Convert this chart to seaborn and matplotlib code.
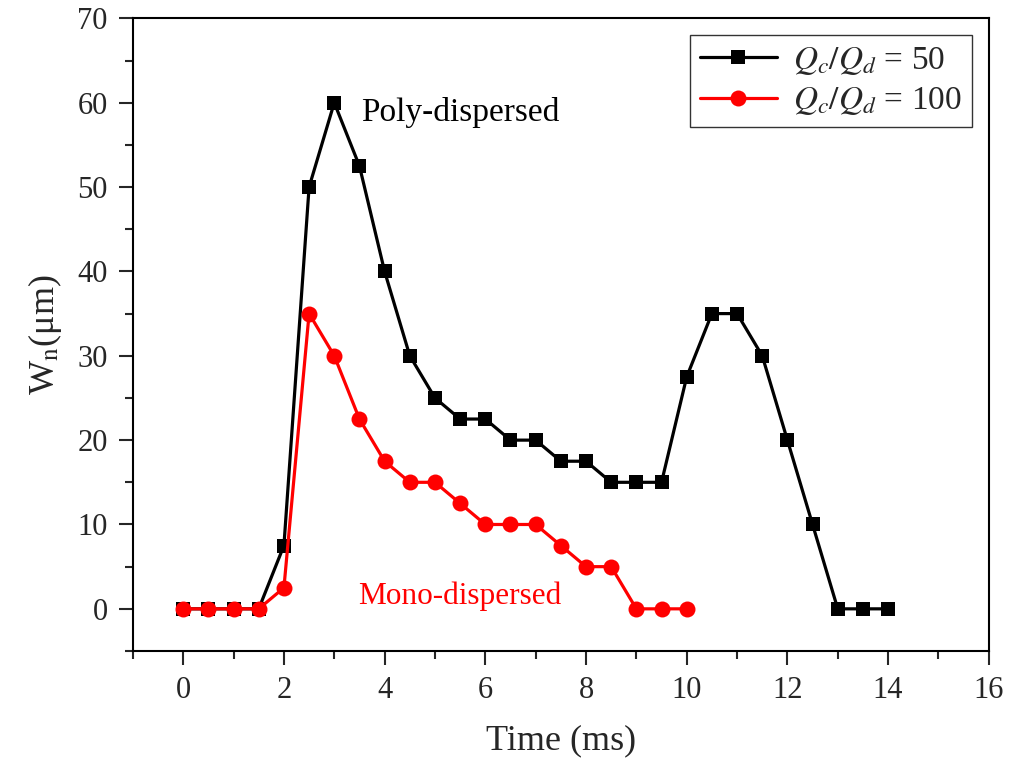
import pandas as pd
import matplotlib
matplotlib.use("Agg")
import matplotlib.pyplot as plt
from matplotlib.ticker import MultipleLocator
import seaborn as sns

# data
time_50 = [0, 0.5, 1, 1.5, 2, 2.5, 3, 3.5, 4, 4.5, 5, 5.5, 6, 6.5, 7, 7.5,
           8, 8.5, 9, 9.5, 10, 10.5, 11, 11.5, 12, 12.5, 13, 13.5, 14]
wn_50 = [0, 0, 0, 0, 7.5, 50, 60, 52.5, 40, 30, 25, 22.5, 22.5, 20, 20, 17.5,
         17.5, 15, 15, 15, 27.5, 35, 35, 30, 20, 10, 0, 0, 0]
time_100 = [0, 0.5, 1, 1.5, 2, 2.5, 3, 3.5, 4, 4.5, 5, 5.5, 6, 6.5, 7, 7.5,
            8, 8.5, 9, 9.5, 10]
wn_100 = [0, 0, 0, 0, 2.5, 35, 30, 22.5, 17.5, 15, 15, 12.5, 10, 10, 10, 7.5,
          5, 5, 0, 0, 0]

df50 = pd.DataFrame({"t": time_50, "w": wn_50})
df100 = pd.DataFrame({"t": time_100, "w": wn_100})

sns.set_style("ticks")
plt.rcParams["font.family"] = ["Liberation Serif", "DejaVu Serif"]
plt.rcParams["mathtext.fontset"] = "stix"

fig = plt.figure(figsize=(10.3, 7.65), dpi=100)
ax = fig.add_axes([0.129, 0.149, 0.831, 0.827])

sns.lineplot(data=df50, x="t", y="w", ax=ax, color="black", marker="s",
             markersize=10, markeredgewidth=0, linewidth=2.3,
             label=r"$Q_c/Q_d$ = 50")
sns.lineplot(data=df100, x="t", y="w", ax=ax, color="red", marker="o",
             markersize=11.5, markeredgewidth=0, linewidth=2.3,
             label=r"$Q_c/Q_d$ = 100")

ax.text(5.5, 58.8, "Poly-dispersed", fontsize=24, color="black",
        ha="center", va="center")
ax.text(5.5, 1.5, "Mono-dispersed", fontsize=22.5, color="red",
        ha="center", va="center")

ax.set_xlim(-1, 16)
ax.set_ylim(-5, 70)
ax.xaxis.set_major_locator(MultipleLocator(2))
ax.xaxis.set_minor_locator(MultipleLocator(1))
ax.yaxis.set_major_locator(MultipleLocator(10))
ax.yaxis.set_minor_locator(MultipleLocator(5))
ax.tick_params(which="major", direction="out", length=10, width=1.5,
               labelsize=22, pad=8)
ax.tick_params(which="minor", direction="out", length=6, width=1.5)
ax.tick_params(top=False, right=False, which="both")
for s in ax.spines.values():
    s.set_linewidth(1.5)
    s.set_color("black")

ax.set_xlabel("Time (ms)", fontsize=26, labelpad=14)
ax.set_ylabel(r"W$_\mathrm{n}$(μm)", fontsize=26, labelpad=10)

leg = ax.legend(loc="upper right", fontsize=24, frameon=True, fancybox=False,
                edgecolor="black", handlelength=2.3, borderpad=0.3,
                labelspacing=0.25, borderaxespad=0.5, handletextpad=0.5)
leg.get_frame().set_linewidth(1)

fig.savefig("out.png", dpi=100)
